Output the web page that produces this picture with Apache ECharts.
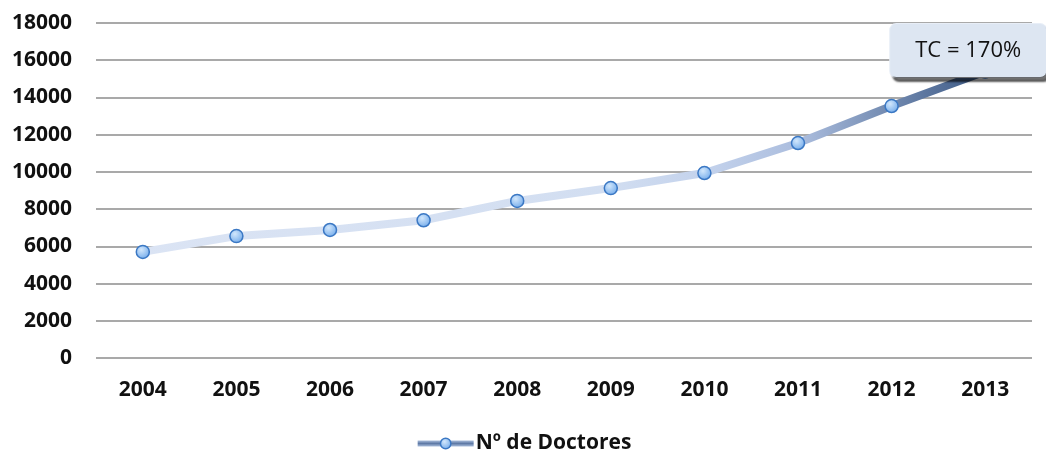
<!DOCTYPE html>
<html>
<head>
<meta charset="utf-8">
<script src="https://cdn.jsdelivr.net/npm/echarts@6/dist/echarts.min.js"></script>
<style>
html,body{margin:0;padding:0;background:#fff;}
#chart{width:1046px;height:452px;}
</style>
</head>
<body>
<div id="chart"></div>
<script>
const categories = ['2004','2005','2006','2007','2008','2009','2010','2011','2012','2013'];
const doctores = [5700, 6550, 6880, 7400, 8440, 9130, 9940, 11550, 13540, 15390];
const seriesName = 'Nº de Doctores';
const calloutText = 'TC = 170%';
const yTicks = {min: 0, max: 18000, interval: 2000};

const chart = echarts.init(document.getElementById('chart'), null, {renderer: 'canvas'});
const FONT = 'Open Sans';
const lastIdx = doctores.length - 1;

const lineGrad = new echarts.graphic.LinearGradient(0, 0, 1, 0, [
  {offset: 0, color: '#dbe4f4'},
  {offset: 0.55, color: '#d2def1'},
  {offset: 0.67, color: '#c3d2ec'},
  {offset: 0.78, color: '#aabcdd'},
  {offset: 0.86, color: '#7e95ba'},
  {offset: 0.93, color: '#5a749d'},
  {offset: 1, color: '#3b5883'}
]);
const markerGrad = new echarts.graphic.RadialGradient(0.4, 0.35, 0.7, [
  {offset: 0, color: '#d2e7fc'},
  {offset: 1, color: '#6ea8ea'}
]);
const legendLineGrad = new echarts.graphic.LinearGradient(0, 0, 0, 1, [
  {offset: 0, color: '#a9bddc'},
  {offset: 0.5, color: '#5f7aa6'},
  {offset: 1, color: '#a9bddc'}
]);

const seriesData = doctores.map((v, i) => {
  if (i === lastIdx) {
    return {
      value: v,
      label: {
        show: true,
        position: 'inside',
        offset: [-17, -21],
        formatter: calloutText,
        fontFamily: FONT,
        fontSize: 22,
        color: '#111',
        backgroundColor: '#dde6f2',
        borderColor: '#e8eef7',
        borderWidth: 1,
        borderRadius: 6,
        width: 156,
        height: 53,
        lineHeight: 53,
        align: 'center',
        verticalAlign: 'middle',
        padding: 0,
        shadowColor: 'rgba(0,0,0,0.55)',
        shadowBlur: 2,
        shadowOffsetX: 3,
        shadowOffsetY: 4
      }
    };
  }
  return v;
});

chart.setOption({
  animation: false,
  backgroundColor: '#fff',
  grid: {left: 96, right: 14, top: 23, bottom: 94, containLabel: false},
  xAxis: {
    type: 'category',
    data: categories,
    boundaryGap: true,
    axisLine: {show: false},
    axisTick: {show: false},
    axisLabel: {fontFamily: FONT, fontWeight: 'bold', fontSize: 21, color: '#111', margin: 22}
  },
  yAxis: {
    type: 'value',
    min: yTicks.min, max: yTicks.max, interval: yTicks.interval,
    axisLine: {show: false},
    axisTick: {show: false},
    splitLine: {lineStyle: {color: '#8c8c8c', width: 1.5}},
    axisLabel: {fontFamily: FONT, fontWeight: 'bold', fontSize: 21, color: '#111', margin: 24,
      formatter: v => String(v)}
  },
  legend: {
    top: 428,
    left: 'center',
    itemWidth: 56,
    itemHeight: 13,
    itemGap: 4,
    data: [{name: seriesName}],
    textStyle: {fontFamily: FONT, fontWeight: 'bold', fontSize: 21, color: '#111', padding: [0, 0, 0, -3]},
    lineStyle: {color: legendLineGrad, width: 6},
    itemStyle: {color: markerGrad, borderColor: '#3b78c4', borderWidth: 1.5}
  },
  series: [{
    name: seriesName,
    type: 'line',
    data: seriesData,
    symbol: 'circle',
    symbolSize: 13,
    showAllSymbol: true,
    lineStyle: {color: lineGrad, width: 8},
    itemStyle: {color: markerGrad, borderColor: '#3b78c4', borderWidth: 1.5},
    z: 3
  }]
});
</script>
</body>
</html>
